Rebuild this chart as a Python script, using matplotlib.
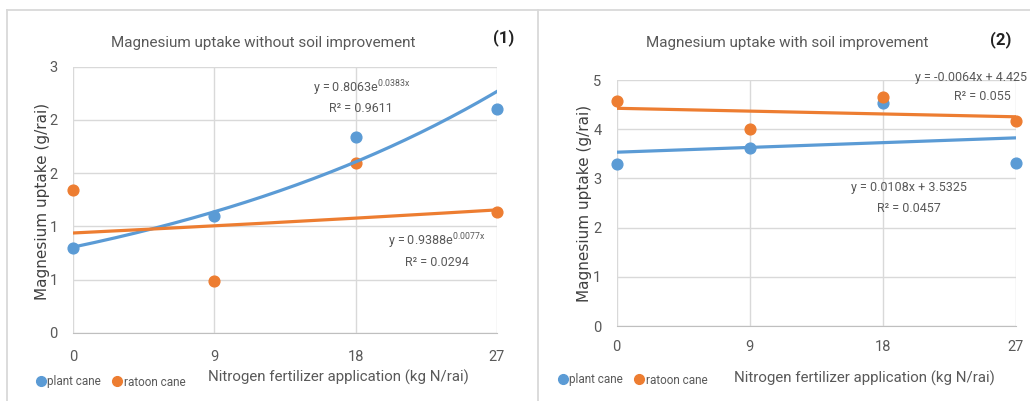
import matplotlib
matplotlib.use("Agg")
import matplotlib.pyplot as plt
from matplotlib.lines import Line2D
import numpy as np

# ---------------- data ----------------
nitrogen = [0, 9, 18, 27]
x_tick_labels = ["0", "9", "18", "27"]

# (1) without soil improvement
plant_no = [0.80, 1.10, 1.84, 2.10]
ratoon_no = [1.34, 0.49, 1.60, 1.14]
plant_no_exp = [0.8063, 0.0383]     # a, b in y = a*e^(b x)
ratoon_no_exp = [0.9388, 0.0077]
plant_no_r2 = "0.9611"
ratoon_no_r2 = "0.0294"
y1_ticks = [0, 0.5, 1.0, 1.5, 2.0, 2.5]
y1_tick_labels = ["0", "1", "1", "2", "2", "3"]

# (2) with soil improvement
plant_with = [3.29, 3.62, 4.54, 3.31]
ratoon_with = [4.58, 4.00, 4.65, 4.16]
plant_with_lin = [0.0108, 3.5325]   # slope, intercept
ratoon_with_lin = [-0.0064, 4.425]
plant_with_r2 = "0.0457"
ratoon_with_r2 = "0.055"
y2_ticks = [0, 1, 2, 3, 4, 5]
y2_tick_labels = ["0", "1", "2", "3", "4", "5"]

series_names = ["plant cane", "ratoon cane"]

# ---------------- style ----------------
BLUE = "#5B9BD5"
ORANGE = "#ED7D31"
GRID = "#d9d9d9"
TXT = "#595959"
plt.rcParams["font.family"] = ["Roboto", "DejaVu Sans"]
plt.rcParams["mathtext.fontset"] = "custom"
plt.rcParams["mathtext.rm"] = "Roboto"
plt.rcParams["mathtext.it"] = "Roboto"

W, H = 1030, 401
fig = plt.figure(figsize=(W / 100, H / 100), dpi=100)


def fx(px):
    return px / W


def fy(py):
    return 1 - py / H


# panel borders
for (x0, y0, x1, y1) in [(7, 9.5, 1030, 9.5), (6.5, 9.5, 6.5, 401), (537.5, 9.5, 537.5, 401)]:
    fig.add_artist(Line2D([fx(x0), fx(x1)], [fy(y0), fy(y1)], color=GRID, lw=1.3,
                          transform=fig.transFigure))


def make_axes(left, top, right, bottom):
    ax = fig.add_axes([fx(left), fy(bottom), fx(right) - fx(left), fy(top) - fy(bottom)])
    ax.set_xlim(0, 27)
    ax.set_xticks(nitrogen)
    ax.set_xticklabels(x_tick_labels)
    for s in ["top", "right", "left"]:
        ax.spines[s].set_visible(False)
    ax.spines["bottom"].set_color("#bfbfbf")
    ax.grid(True, color=GRID, lw=1)
    ax.set_axisbelow(True)
    ax.tick_params(length=0, labelsize=10.5, labelcolor=TXT)
    ax.tick_params(axis="x", pad=12)
    ax.tick_params(axis="y", pad=11)
    return ax


xs = np.linspace(0, 27, 200)

# ---------- panel 1 ----------
ax1 = make_axes(73, 66.7, 497, 333)
ax1.set_ylim(0, 2.5)
ax1.set_yticks(y1_ticks)
ax1.set_yticklabels(y1_tick_labels)
ax1.scatter(nitrogen, plant_no, s=60, color=BLUE, zorder=3, clip_on=False)
ax1.scatter(nitrogen, ratoon_no, s=60, color=ORANGE, zorder=3, clip_on=False)
ax1.plot(xs, plant_no_exp[0] * np.exp(plant_no_exp[1] * xs), color=BLUE, lw=2.3, zorder=4)
ax1.plot(xs, ratoon_no_exp[0] * np.exp(ratoon_no_exp[1] * xs), color=ORANGE, lw=2.3, zorder=4)

# ---------- panel 2 ----------
ax2 = make_axes(616.7, 80, 1016, 326)
ax2.set_ylim(0, 5)
ax2.set_yticks(y2_ticks)
ax2.set_yticklabels(y2_tick_labels)
ax2.tick_params(axis="x", pad=10)
ax2.scatter(nitrogen, plant_with, s=60, color=BLUE, zorder=3, clip_on=False)
ax2.scatter(nitrogen, ratoon_with, s=60, color=ORANGE, zorder=3, clip_on=False)
ax2.plot(xs, plant_with_lin[0] * xs + plant_with_lin[1], color=BLUE, lw=2.3, zorder=4)
ax2.plot(xs, ratoon_with_lin[0] * xs + ratoon_with_lin[1], color=ORANGE, lw=2.3, zorder=4)

# ---------- texts ----------
def ftext(px, py, s, **kw):
    fig.text(fx(px), fy(py), s, **kw)


ftext(263, 43, "Magnesium uptake without soil improvement", ha="center", va="center",
      fontsize=11, color=TXT)
ftext(787, 43, "Magnesium uptake with soil improvement", ha="center", va="center",
      fontsize=11, color=TXT)
ftext(504, 38, "(1)", ha="center", va="center", fontsize=12, color="#222222", fontweight="bold")
ftext(1001, 40, "(2)", ha="center", va="center", fontsize=12, color="#222222", fontweight="bold")

ftext(43, 201, "Magnesium uptake (g/rai)", rotation=90, ha="center", va="center",
      fontsize=11, color="#404040", family=["DejaVu Sans"])
ftext(585, 203, "Magnesium uptake (g/rai)", rotation=90, ha="center", va="center",
      fontsize=11, color="#404040", family=["DejaVu Sans"])

ftext(338, 377, "Nitrogen fertilizer application (kg N/rai)", ha="center", va="center",
      fontsize=10.8, color=TXT)
ftext(864, 378, "Nitrogen fertilizer application (kg N/rai)", ha="center", va="center",
      fontsize=10.8, color=TXT)

# trendline equations
EQ = 9
ftext(362, 88, r"y = %.4fe$^{\mathregular{%.4fx}}$" % (plant_no_exp[0], plant_no_exp[1]),
      ha="center", va="center", fontsize=EQ, color=TXT)
ftext(361, 108, "R² = " + plant_no_r2, ha="center", va="center", fontsize=EQ, color=TXT)
ftext(437, 241, r"y = %.4fe$^{\mathregular{%.4fx}}$" % (ratoon_no_exp[0], ratoon_no_exp[1]),
      ha="center", va="center", fontsize=EQ, color=TXT)
ftext(437, 262, "R² = " + ratoon_no_r2, ha="center", va="center", fontsize=EQ, color=TXT)

ftext(1027, 77, "y = %.4fx + %.3f" % (ratoon_with_lin[0], ratoon_with_lin[1]),
      ha="right", va="center", fontsize=EQ, color=TXT)
ftext(982, 97, "R² = " + ratoon_with_r2, ha="center", va="center", fontsize=EQ, color=TXT)
ftext(909, 188, "y = %.4fx + %.4f" % (plant_with_lin[0], plant_with_lin[1]),
      ha="center", va="center", fontsize=EQ, color=TXT)
ftext(909, 208, "R² = " + plant_with_r2, ha="center", va="center", fontsize=EQ, color=TXT)

# legends
for (dx, ly) in [(42, 382), (564, 380)]:
    handles = [Line2D([], [], marker="o", ls="", color=BLUE, markersize=7),
               Line2D([], [], marker="o", ls="", color=ORANGE, markersize=7)]
    fig.legend(handles, series_names, loc="center left",
               bbox_to_anchor=(fx(dx - 6), fy(ly)), ncol=2, frameon=False,
               handletextpad=0.15, columnspacing=1.0, handlelength=0.8,
               borderpad=0, borderaxespad=0,
               prop={"size": 8.5}, labelcolor=TXT)

fig.savefig("out.png", dpi=100)
